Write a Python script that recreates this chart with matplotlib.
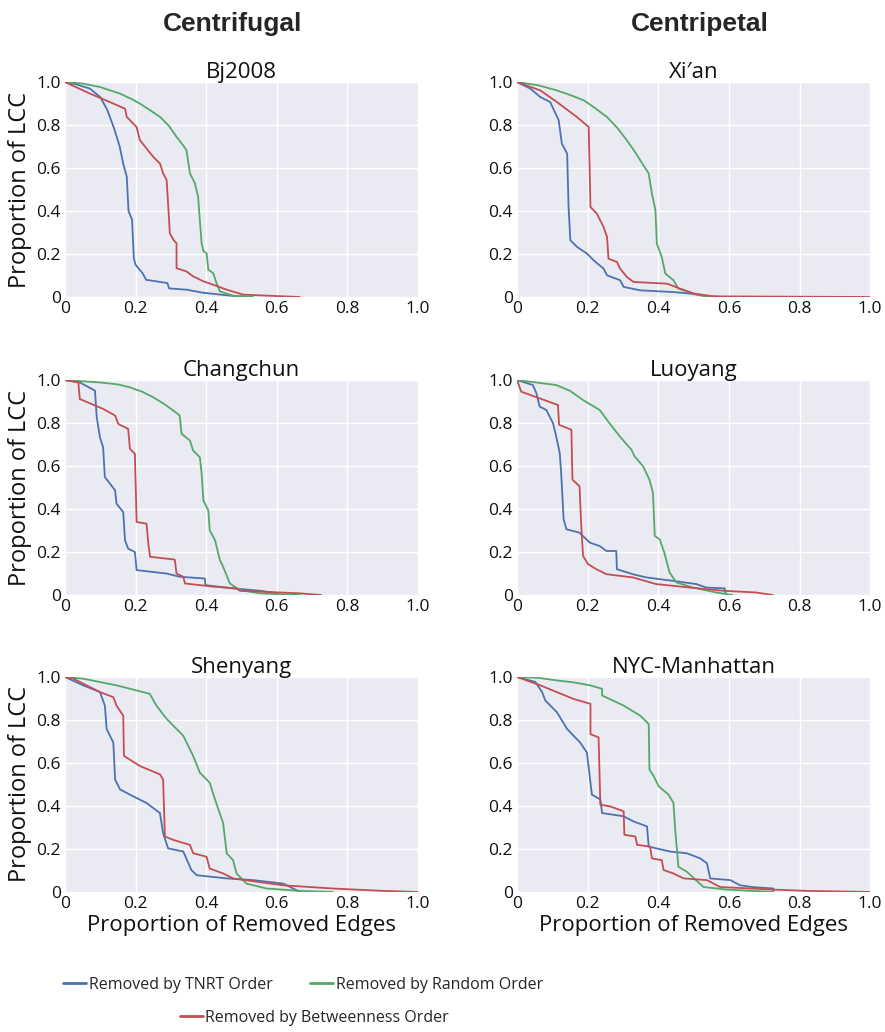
import numpy as np
import matplotlib
matplotlib.use("Agg")
import matplotlib.pyplot as plt
import seaborn as sns
from matplotlib.lines import Line2D

sns.set_style("darkgrid")
plt.rcParams['font.family'] = ['Open Sans', 'DejaVu Sans']

BLUE = "#4C72B0"
GREEN = "#55A868"
RED = "#C44E52"

titles = ["Bj2008", "Xi\u2032an", "Changchun", "Luoyang", "Shenyang", "NYC-Manhattan"]
col_headers = ["Centrifugal", "Centripetal"]
legend_labels = ["Removed by TNRT Order", "Removed by Random Order", "Removed by Betweenness Order"]
tick_vals = [0, 0.2, 0.4, 0.6, 0.8, 1.0]
tick_labels = ["0", "0.2", "0.4", "0.6", "0.8", "1.0"]

# Bj2008
bj_tnrt_x = [0, 0.03, 0.07, 0.10, 0.12, 0.14, 0.155, 0.165, 0.175, 0.18, 0.19, 0.195, 0.20, 0.22, 0.23, 0.29, 0.295, 0.345, 0.39, 0.47, 0.52]
bj_tnrt_y = [1, 0.99, 0.97, 0.93, 0.87, 0.78, 0.70, 0.62, 0.56, 0.40, 0.36, 0.18, 0.15, 0.11, 0.08, 0.065, 0.04, 0.034, 0.02, 0.006, 0]
bj_btw_x = [0, 0.071, 0.127, 0.17, 0.175, 0.203, 0.212, 0.25, 0.269, 0.278, 0.288, 0.292, 0.297, 0.307, 0.316, 0.316, 0.344, 0.363, 0.392, 0.42, 0.458, 0.505, 0.665]
bj_btw_y = [1, 0.946, 0.907, 0.876, 0.838, 0.79, 0.73, 0.652, 0.621, 0.575, 0.544, 0.436, 0.297, 0.266, 0.25, 0.134, 0.119, 0.096, 0.073, 0.057, 0.034, 0.011, 0]
bj_rnd_x = [0, 0.05, 0.099, 0.156, 0.19, 0.212, 0.24, 0.269, 0.295, 0.316, 0.335, 0.344, 0.354, 0.368, 0.377, 0.382, 0.387, 0.392, 0.401, 0.406, 0.42, 0.429, 0.439, 0.476, 0.533]
bj_rnd_y = [1, 0.993, 0.977, 0.946, 0.92, 0.9, 0.87, 0.838, 0.795, 0.745, 0.705, 0.683, 0.575, 0.529, 0.467, 0.357, 0.25, 0.213, 0.204, 0.127, 0.111, 0.065, 0.026, 0.006, 0]

# Xi'an
xa_tnrt_x = [0, 0.038, 0.066, 0.094, 0.118, 0.127, 0.142, 0.146, 0.151, 0.17, 0.198, 0.217, 0.245, 0.255, 0.292, 0.302, 0.349, 0.443, 0.491, 0.538, 0.585]
xa_tnrt_y = [1, 0.969, 0.93, 0.907, 0.822, 0.713, 0.667, 0.419, 0.264, 0.233, 0.202, 0.171, 0.132, 0.101, 0.078, 0.047, 0.031, 0.023, 0.016, 0.003, 0]
xa_btw_x = [0, 0.066, 0.113, 0.17, 0.203, 0.208, 0.226, 0.245, 0.255, 0.259, 0.283, 0.292, 0.311, 0.33, 0.425, 0.462, 0.5, 0.557, 1.0]
xa_btw_y = [1, 0.961, 0.907, 0.837, 0.791, 0.419, 0.388, 0.326, 0.279, 0.178, 0.163, 0.132, 0.093, 0.07, 0.062, 0.039, 0.016, 0.003, 0]
xa_rnd_x = [0, 0.06, 0.113, 0.15, 0.189, 0.22, 0.255, 0.285, 0.311, 0.33, 0.349, 0.373, 0.382, 0.392, 0.396, 0.41, 0.42, 0.443, 0.457, 0.5, 0.538, 0.585]
xa_rnd_y = [1, 0.985, 0.961, 0.94, 0.915, 0.88, 0.837, 0.785, 0.729, 0.685, 0.636, 0.574, 0.481, 0.403, 0.248, 0.186, 0.109, 0.078, 0.039, 0.016, 0.003, 0]

# Changchun
cc_tnrt_x = [0, 0.042, 0.085, 0.09, 0.099, 0.108, 0.113, 0.142, 0.146, 0.165, 0.17, 0.179, 0.198, 0.203, 0.288, 0.325, 0.396, 0.398, 0.476, 0.552, 0.59, 0.608]
cc_tnrt_y = [1, 0.989, 0.951, 0.827, 0.734, 0.688, 0.549, 0.487, 0.425, 0.386, 0.255, 0.216, 0.2, 0.116, 0.1, 0.085, 0.077, 0.046, 0.031, 0.02, 0.011, 0]
cc_btw_x = [0, 0.038, 0.042, 0.108, 0.142, 0.151, 0.179, 0.184, 0.198, 0.203, 0.231, 0.236, 0.241, 0.311, 0.316, 0.335, 0.34, 0.42, 0.486, 0.495, 0.665, 0.726]
cc_btw_y = [1, 0.989, 0.912, 0.866, 0.835, 0.796, 0.773, 0.68, 0.657, 0.34, 0.332, 0.24, 0.178, 0.165, 0.1, 0.085, 0.054, 0.039, 0.031, 0.02, 0.008, 0]
cc_rnd_x = [0, 0.099, 0.15, 0.184, 0.22, 0.25, 0.28, 0.307, 0.325, 0.33, 0.354, 0.363, 0.382, 0.387, 0.392, 0.406, 0.41, 0.425, 0.439, 0.448, 0.467, 0.495, 0.552, 0.665]
cc_rnd_y = [1, 0.989, 0.98, 0.966, 0.945, 0.92, 0.89, 0.858, 0.835, 0.75, 0.719, 0.672, 0.641, 0.564, 0.44, 0.394, 0.301, 0.255, 0.162, 0.131, 0.054, 0.023, 0.008, 0]

# Luoyang
ly_tnrt_x = [0, 0.045, 0.055, 0.064, 0.083, 0.102, 0.111, 0.121, 0.125, 0.132, 0.14, 0.177, 0.206, 0.234, 0.253, 0.281, 0.283, 0.328, 0.366, 0.442, 0.508, 0.536, 0.588, 0.592]
ly_tnrt_y = [1, 0.977, 0.938, 0.877, 0.861, 0.799, 0.738, 0.66, 0.568, 0.352, 0.306, 0.29, 0.244, 0.228, 0.205, 0.205, 0.12, 0.097, 0.082, 0.066, 0.051, 0.035, 0.031, 0]
ly_btw_x = [0, 0.012, 0.064, 0.116, 0.119, 0.154, 0.157, 0.177, 0.182, 0.187, 0.201, 0.225, 0.253, 0.328, 0.394, 0.489, 0.583, 0.677, 0.725]
ly_btw_y = [1, 0.946, 0.915, 0.884, 0.792, 0.769, 0.537, 0.506, 0.321, 0.182, 0.144, 0.12, 0.097, 0.082, 0.051, 0.035, 0.02, 0.012, 0]
ly_rnd_x = [0, 0.111, 0.15, 0.187, 0.234, 0.262, 0.291, 0.324, 0.333, 0.357, 0.375, 0.385, 0.39, 0.404, 0.417, 0.432, 0.451, 0.498, 0.564, 0.611]
ly_rnd_y = [1, 0.977, 0.95, 0.907, 0.861, 0.799, 0.738, 0.676, 0.645, 0.599, 0.537, 0.475, 0.275, 0.259, 0.198, 0.105, 0.059, 0.035, 0.012, 0]

# Shenyang
sy_tnrt_x = [0, 0.052, 0.099, 0.113, 0.118, 0.137, 0.142, 0.156, 0.193, 0.231, 0.269, 0.278, 0.292, 0.335, 0.358, 0.373, 0.458, 0.533, 0.618, 0.656, 0.665]
sy_tnrt_y = [1, 0.961, 0.93, 0.867, 0.758, 0.695, 0.523, 0.477, 0.445, 0.414, 0.367, 0.273, 0.203, 0.188, 0.102, 0.078, 0.063, 0.055, 0.039, 0.008, 0]
sy_btw_x = [0, 0.024, 0.099, 0.137, 0.146, 0.165, 0.167, 0.212, 0.269, 0.278, 0.283, 0.307, 0.354, 0.363, 0.401, 0.41, 0.448, 0.476, 0.524, 0.618, 0.759, 0.901, 1.0]
sy_btw_y = [1, 0.992, 0.93, 0.906, 0.867, 0.82, 0.633, 0.586, 0.547, 0.523, 0.258, 0.242, 0.219, 0.18, 0.164, 0.109, 0.086, 0.063, 0.052, 0.031, 0.016, 0.005, 0]
sy_rnd_x = [0, 0.052, 0.146, 0.24, 0.259, 0.288, 0.335, 0.363, 0.382, 0.41, 0.425, 0.448, 0.458, 0.476, 0.486, 0.514, 0.571, 0.665, 0.759]
sy_rnd_y = [1, 0.992, 0.961, 0.922, 0.867, 0.805, 0.727, 0.633, 0.555, 0.508, 0.43, 0.32, 0.18, 0.148, 0.086, 0.039, 0.016, 0.005, 0]

# NYC-Manhattan
ny_tnrt_x = [0, 0.052, 0.071, 0.08, 0.113, 0.142, 0.16, 0.179, 0.198, 0.208, 0.212, 0.236, 0.241, 0.302, 0.33, 0.368, 0.373, 0.434, 0.481, 0.519, 0.538, 0.547, 0.604, 0.632, 0.665, 0.726, 0.726]
ny_tnrt_y = [1, 0.977, 0.93, 0.891, 0.836, 0.758, 0.727, 0.695, 0.648, 0.508, 0.453, 0.43, 0.367, 0.352, 0.328, 0.305, 0.211, 0.188, 0.18, 0.156, 0.133, 0.063, 0.055, 0.031, 0.023, 0.016, 0]
ny_btw_x = [0, 0.066, 0.16, 0.208, 0.208, 0.231, 0.236, 0.264, 0.302, 0.304, 0.335, 0.34, 0.377, 0.382, 0.41, 0.415, 0.443, 0.472, 0.538, 0.575, 0.726, 0.821, 1.0]
ny_btw_y = [1, 0.961, 0.898, 0.875, 0.734, 0.719, 0.406, 0.398, 0.375, 0.266, 0.258, 0.219, 0.211, 0.156, 0.148, 0.102, 0.086, 0.063, 0.055, 0.023, 0.011, 0.005, 0]
ny_rnd_x = [0, 0.06, 0.113, 0.16, 0.208, 0.241, 0.241, 0.302, 0.349, 0.373, 0.375, 0.387, 0.401, 0.429, 0.443, 0.448, 0.457, 0.481, 0.528, 0.594, 0.726]
ny_rnd_y = [1, 0.996, 0.984, 0.975, 0.961, 0.945, 0.914, 0.867, 0.82, 0.781, 0.57, 0.539, 0.492, 0.453, 0.414, 0.289, 0.117, 0.094, 0.023, 0.011, 0]

panels = [
    (bj_tnrt_x, bj_tnrt_y, bj_btw_x, bj_btw_y, bj_rnd_x, bj_rnd_y),
    (xa_tnrt_x, xa_tnrt_y, xa_btw_x, xa_btw_y, xa_rnd_x, xa_rnd_y),
    (cc_tnrt_x, cc_tnrt_y, cc_btw_x, cc_btw_y, cc_rnd_x, cc_rnd_y),
    (ly_tnrt_x, ly_tnrt_y, ly_btw_x, ly_btw_y, ly_rnd_x, ly_rnd_y),
    (sy_tnrt_x, sy_tnrt_y, sy_btw_x, sy_btw_y, sy_rnd_x, sy_rnd_y),
    (ny_tnrt_x, ny_tnrt_y, ny_btw_x, ny_btw_y, ny_rnd_x, ny_rnd_y),
]

fig = plt.figure(figsize=(8.85, 10.32), dpi=100)

lefts = [0.0734, 0.5842]
bottoms = [0.7122, 0.4234, 0.1357]
w, h = 0.399, 0.2083

for i, (tx, ty, bx, by, rx, ry) in enumerate(panels):
    row, col = divmod(i, 2)
    ax = fig.add_axes([lefts[col], bottoms[row], w, h])
    ax.set_facecolor("#EAEAF2")
    ax.plot(tx, ty, color=BLUE, lw=1.3)
    ax.plot(rx, ry, color=GREEN, lw=1.3)
    ax.plot(bx, by, color=RED, lw=1.3)
    ax.set_xlim(0, 1)
    ax.set_ylim(0, 1)
    ax.set_xticks(tick_vals)
    ax.set_xticklabels(tick_labels, fontsize=12.5, color="#111111")
    ax.set_yticks(tick_vals)
    ax.set_yticklabels(tick_labels, fontsize=12.5, color="#111111")
    ax.tick_params(length=0, pad=3)
    ax.grid(True, color="white", lw=1.0)
    for s in ax.spines.values():
        s.set_visible(False)
    ax.set_title(titles[i], fontsize=16, pad=3, color="#111111")
    if col == 0:
        ax.set_ylabel("Proportion of LCC", fontsize=17, labelpad=3, color="#111111")
    if row == 2:
        ax.set_xlabel("Proportion of Removed Edges", fontsize=16, labelpad=2, color="#111111")

fig.text(0.263, 0.977, col_headers[0], ha="center", va="center", fontsize=19,
         fontweight="bold", family=["Liberation Sans", "DejaVu Sans"])
fig.text(0.791, 0.977, col_headers[1], ha="center", va="center", fontsize=19,
         fontweight="bold", family=["Liberation Sans", "DejaVu Sans"])

leg_font = {"size": 11.5}
h_blue = Line2D([], [], color=BLUE, lw=2)
h_green = Line2D([], [], color=GREEN, lw=2)
h_red = Line2D([], [], color=RED, lw=2)
leg_kw = dict(loc="center left", frameon=False, prop=leg_font, handlelength=1.45,
              handletextpad=0.15, borderpad=0.4)
fig.legend([h_blue], [legend_labels[0]], bbox_to_anchor=(0.055, 0.0455), **leg_kw)
fig.legend([h_green], [legend_labels[1]], bbox_to_anchor=(0.334, 0.0455), **leg_kw)
fig.legend([h_red], [legend_labels[2]], bbox_to_anchor=(0.187, 0.0136), **leg_kw)

fig.savefig("out.png", dpi=100)
